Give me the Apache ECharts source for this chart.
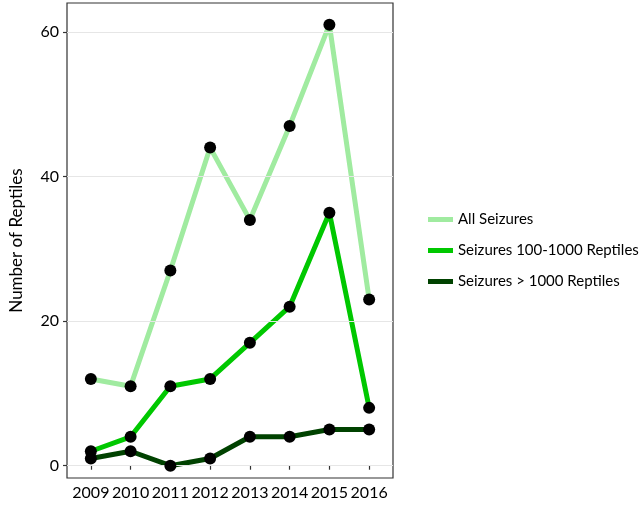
<!DOCTYPE html>
<html><head><meta charset="utf-8">
<script src="https://cdn.jsdelivr.net/npm/echarts@6/dist/echarts.min.js"></script>
<style>html,body{margin:0;padding:0;background:#fff}#c{width:644px;height:514px}</style>
</head><body><div id="c"></div>
<script>
const years = [2009, 2010, 2011, 2012, 2013, 2014, 2015, 2016];
const allSeizures = [12, 11, 27, 44, 34, 47, 61, 23];
const seizures100to1000 = [2, 4, 11, 12, 17, 22, 35, 8];
const seizuresOver1000 = [1, 2, 0, 1, 4, 4, 5, 5];
const yTicks = [0, 20, 40, 60];
const names = ['All Seizures', 'Seizures 100-1000 Reptiles', 'Seizures > 1000 Reptiles'];
const colors = ['#a0eba0', '#00c800', '#004200'];
const values = [allSeizures, seizures100to1000, seizuresOver1000];
const font = 'Lato, "DejaVu Sans", sans-serif';

const series = [];
series.push({
  type: 'line', data: [], silent: true,
  markLine: { silent: true, symbol: 'none', label: {show: false},
    lineStyle: {color: '#e6e6e6', width: 1.2, type: 'solid'},
    data: yTicks.map(v => ({yAxis: v})) , animation: false}
});
values.forEach((vals, i) => {
  series.push({
    name: names[i], type: 'line', z: 2,
    data: years.map((y, j) => [y, vals[j]]),
    showSymbol: false, symbol: 'none',
    lineStyle: {color: colors[i], width: 5},
    itemStyle: {color: colors[i]}
  });
});
values.forEach((vals, i) => {
  series.push({
    type: 'scatter', z: 5,
    data: years.map((y, j) => [y, vals[j]]),
    symbolSize: 12, itemStyle: {color: '#000', opacity: 1}
  });
});

const chart = echarts.init(document.getElementById('c'), null, {renderer: 'canvas'});
chart.setOption({
  animation: false,
  grid: {left: 67, top: 3, right: 251, bottom: 36, show: true, borderColor: '#333', borderWidth: 1.2, backgroundColor: '#fff'},
  legend: {
    orient: 'vertical', left: 423, top: 207, itemGap: 16,
    itemWidth: 25, itemHeight: 5, icon: 'rect',
    textStyle: {fontFamily: font, fontSize: 15, color: '#000'},
    data: names.map((n, i) => ({name: n, icon: 'rect', itemStyle: {color: colors[i]}}))
  },
  xAxis: {
    type: 'value', min: 2008.4, max: 2016.6,
    axisLine: {show: false},
    splitLine: {show: false},
    axisTick: {show: true, length: 4, lineStyle: {color: '#333', width: 1.2}, customValues: years},
    axisLabel: {customValues: years, formatter: v => String(v), fontFamily: font, fontSize: 16, color: '#000', margin: 7}
  },
  yAxis: {
    type: 'value', min: -1.7, max: 64,
    name: 'Number of Reptiles', nameLocation: 'middle', nameGap: 42, nameRotate: 90,
    nameTextStyle: {fontFamily: font, fontSize: 17, color: '#000'},
    axisLine: {show: false},
    splitLine: {show: false},
    axisTick: {show: true, length: 4, lineStyle: {color: '#333', width: 1.2}, customValues: yTicks},
    axisLabel: {customValues: yTicks, fontFamily: font, fontSize: 16, color: '#000', margin: 8}
  },
  series: series
});
</script></body></html>
